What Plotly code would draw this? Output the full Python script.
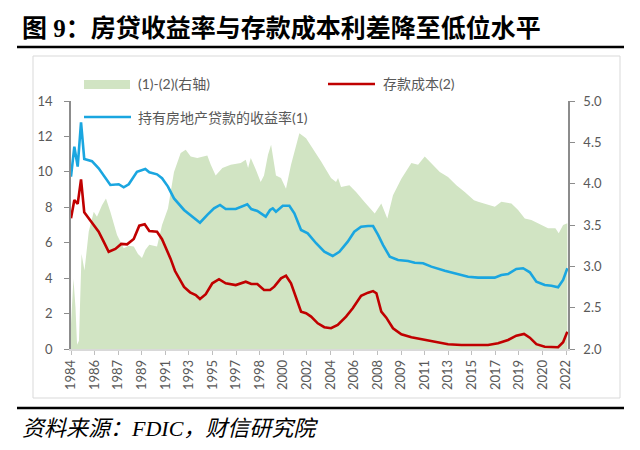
import plotly.graph_objects as go

# ---------------- data ----------------
blue_year = [1984.00, 1984.26, 1984.52, 1984.78, 1985.03, 1985.63, 1986.15, 1986.67, 1987.06, 1987.71,
             1988.10, 1988.49, 1989.13, 1989.78, 1990.09, 1990.69, 1991.08, 1991.54, 1992.01, 1992.79,
             1993.57, 1994.03, 1994.60, 1995.12, 1995.59, 1996.03, 1996.81, 1997.32, 1997.71, 1998.02,
             1998.49, 1999.14, 1999.48, 1999.69, 1999.94, 2000.47, 2000.98, 2001.37, 2001.89, 2002.41,
             2003.06, 2003.70, 2004.35, 2004.87, 2005.52, 2006.03, 2006.56, 2007.10, 2007.49, 2007.88,
             2008.27, 2008.79, 2009.43, 2010.21, 2010.73, 2011.38, 2012.02, 2013.07, 2013.97, 2014.88,
             2015.66, 2016.95, 2017.47, 2017.99, 2018.63, 2019.16, 2019.68, 2020.19, 2020.84, 2021.36,
             2021.88, 2022.27, 2022.60]
blue_yield = [9.73, 11.42, 10.30, 12.80, 10.73, 10.60, 10.20, 9.64, 9.26, 9.30,
              9.13, 9.30, 10.00, 10.16, 9.98, 9.86, 9.64, 9.17, 8.50, 7.85,
              7.41, 7.13, 7.57, 7.94, 8.13, 7.90, 7.90, 8.04, 8.17, 7.90,
              7.79, 7.47, 7.85, 7.94, 7.75, 8.09, 8.09, 7.66, 6.72, 6.53,
              5.97, 5.49, 5.25, 5.49, 6.06, 6.62, 6.90, 6.94, 6.94, 6.44,
              5.87, 5.21, 5.02, 4.97, 4.87, 4.84, 4.65, 4.42, 4.23, 4.08,
              4.03, 4.03, 4.18, 4.23, 4.52, 4.56, 4.33, 3.80, 3.61, 3.57,
              3.48, 3.90, 4.56]

red_year = [1984.00, 1984.26, 1984.52, 1984.78, 1985.03, 1985.63, 1986.15, 1986.54, 1986.93, 1987.45,
            1987.91, 1988.36, 1988.88, 1989.31, 1989.73, 1990.09, 1990.69, 1991.08, 1991.39, 1991.74,
            1992.09, 1992.47, 1992.79, 1993.26, 1993.70, 1994.03, 1994.48, 1994.99, 1995.51, 1996.03,
            1996.81, 1997.59, 1998.02, 1998.49, 1999.01, 1999.48, 1999.81, 2000.33, 2000.72, 2001.11,
            2001.50, 2001.89, 2002.28, 2002.67, 2003.19, 2003.70, 2004.22, 2004.74, 2005.39, 2005.91,
            2006.56, 2006.95, 2007.10, 2007.49, 2007.75, 2008.13, 2008.52, 2009.04, 2009.69, 2010.47,
            2011.25, 2012.29, 2013.32, 2014.36, 2015.34, 2016.43, 2017.21, 2017.99, 2018.63, 2019.23,
            2019.68, 2020.19, 2020.84, 2021.88, 2022.27, 2022.60]
red_cost = [7.38, 8.41, 8.19, 9.58, 7.72, 7.10, 6.62, 6.06, 5.49, 5.65,
            5.93, 5.91, 6.21, 6.96, 7.04, 6.66, 6.62, 6.20, 5.70, 5.10,
            4.40, 3.90, 3.50, 3.20, 3.05, 2.82, 3.09, 3.71, 3.94, 3.71,
            3.61, 3.80, 3.67, 3.67, 3.33, 3.33, 3.52, 3.99, 4.14, 3.71,
            2.95, 2.11, 2.02, 1.83, 1.45, 1.23, 1.17, 1.36, 1.83, 2.30,
            3.00, 3.15, 3.18, 3.27, 3.15, 2.11, 1.77, 1.17, 0.83, 0.66,
            0.55, 0.38, 0.27, 0.23, 0.23, 0.23, 0.32, 0.51, 0.75, 0.85,
            0.64, 0.27, 0.13, 0.10, 0.38, 0.98]

green_year = [1984.00, 1984.19, 1984.35, 1984.47, 1984.62, 1984.82, 1985.05, 1985.38, 1985.77, 1986.02,
              1986.41, 1986.72, 1987.06, 1987.58, 1988.10, 1988.49, 1988.88, 1989.21, 1989.52, 1989.79,
              1990.09, 1990.38, 1990.69, 1991.08, 1991.54, 1992.01, 1992.53, 1992.92, 1993.31, 1993.82,
              1994.34, 1994.60, 1994.87, 1995.25, 1995.77, 1996.42, 1997.20, 1997.59, 1997.77, 1997.98,
              1998.37, 1998.75, 1999.01, 1999.32, 1999.56, 1999.94, 2000.33, 2000.72, 2001.11, 2001.76,
              2002.28, 2002.80, 2003.44, 2004.22, 2004.61, 2004.77, 2005.00, 2005.65, 2006.17, 2006.81,
              2007.41, 2007.62, 2008.13, 2008.60, 2009.04, 2009.69, 2010.47, 2010.99, 2011.51, 2012.02,
              2012.68, 2013.32, 2013.97, 2014.62, 2015.34, 2015.66, 2016.43, 2016.96, 2017.47, 2018.25,
              2018.77, 2019.29, 2019.80, 2020.32, 2021.10, 2021.67, 2021.93, 2022.27, 2022.60]
green_spread = [2.30, 2.85, 2.50, 2.05, 2.10, 3.15, 2.95, 3.42, 3.66, 3.60,
                3.74, 3.82, 3.66, 3.38, 3.22, 3.25, 3.24, 3.15, 3.10, 3.20,
                3.26, 3.25, 3.24, 3.50, 3.70, 4.14, 4.37, 4.41, 4.33, 4.31,
                4.33, 4.34, 4.23, 4.10, 4.19, 4.23, 4.25, 4.29, 4.19, 4.31,
                4.17, 4.02, 4.10, 4.35, 4.47, 4.10, 4.07, 3.94, 4.23, 4.61,
                4.55, 4.43, 4.27, 4.07, 4.02, 4.07, 3.96, 3.98, 3.90, 3.78,
                3.68, 3.64, 3.76, 3.58, 3.86, 4.06, 4.25, 4.23, 4.33, 4.25,
                4.14, 4.08, 3.98, 3.90, 3.80, 3.78, 3.74, 3.72, 3.78, 3.76,
                3.68, 3.58, 3.56, 3.52, 3.46, 3.46, 3.40, 3.50, 3.52]

tick_labels = ["1984", "1986", "1987", "1989", "1991", "1993", "1995", "1997", "1998", "2000", "2002",
               "2004", "2006", "2008", "2009", "2011", "2013", "2015", "2017", "2019", "2020", "2022"]

title_text = "图 9：房贷收益率与存款成本利差降至低位水平"
source_text = "资料来源：FDIC，财信研究院"
name_green = "(1)-(2)(右轴)"
name_red = "存款成本(2)"
name_blue = "持有房地产贷款的收益率(1)"

# ---------------- style ----------------
GREEN = "#d1e4c3"
BLUE = "#1aa6e0"
RED = "#c00000"
GREY_TXT = "#595959"
W, H = 640, 450
L, R, T, B = 71, 568, 101, 349
X0, X1 = 1984.0, 2022.65


def fx(p):
    return (p - L) / (R - L)


def fy(p):
    return (B - p) / (B - T)


tick_vals = [X0 + k * 38.5 / (len(tick_labels) - 1) for k in range(len(tick_labels))]

fig = go.Figure()
fig.add_trace(go.Scatter(x=green_year, y=green_spread, name=name_green, mode="lines",
                         line=dict(width=0, color=GREEN), fill="tozeroy", fillcolor=GREEN,
                         yaxis="y", showlegend=False))
fig.add_trace(go.Scatter(x=blue_year, y=blue_yield, name=name_blue, mode="lines",
                         line=dict(width=2.6, color=BLUE), yaxis="y2", showlegend=False))
fig.add_trace(go.Scatter(x=red_year, y=red_cost, name=name_red, mode="lines",
                         line=dict(width=2.6, color=RED), yaxis="y2", showlegend=False))

tickfont = dict(family="Lato, Noto Sans, sans-serif", size=13, color=GREY_TXT)

fig.update_layout(
    width=W, height=H, autosize=False,
    margin=dict(l=L, r=W - R, t=T, b=H - B, pad=0),
    paper_bgcolor="white", plot_bgcolor="white",
    showlegend=False,
    xaxis=dict(range=[X0, X1], tickvals=tick_vals, ticktext=tick_labels, tickangle=-90,
               ticks="outside", ticklen=4, tickcolor="#bfbfbf", showline=True, linecolor="#d9d9d9",
               linewidth=1.5, showgrid=False, zeroline=False, tickfont=tickfont),
    yaxis=dict(range=[2, 5], side="right", dtick=0.5, tickformat=".1f", ticks="outside", ticklen=5,
               tickcolor="#8c8c8c", showline=True, linecolor="#8c8c8c", linewidth=1.5,
               showgrid=False, zeroline=False, tickfont=tickfont, ticklabelstandoff=6),
    yaxis2=dict(range=[0, 14], side="left", overlaying="y", dtick=2, ticks="outside", ticklen=5,
                tickcolor="#8c8c8c", showline=True, linecolor="#8c8c8c", linewidth=1.5,
                showgrid=False, zeroline=False, tickfont=tickfont, ticklabelstandoff=9),
)

shapes = [
    dict(type="line", xref="paper", yref="paper", x0=fx(17), x1=fx(624), y0=fy(47), y1=fy(47),
         line=dict(color="black", width=2.5)),
    dict(type="line", xref="paper", yref="paper", x0=fx(17), x1=fx(624), y0=fy(408), y1=fy(408),
         line=dict(color="black", width=2.5)),
    dict(type="rect", xref="paper", yref="paper", x0=fx(33), x1=fx(620), y0=fy(398), y1=fy(56),
         line=dict(color="#d9d9d9", width=1), layer="below"),
    dict(type="rect", xref="paper", yref="paper", x0=fx(84), x1=fx(130), y0=fy(89), y1=fy(80),
         fillcolor=GREEN, line=dict(width=0)),
    dict(type="line", xref="paper", yref="paper", x0=fx(328), x1=fx(375), y0=fy(84), y1=fy(84),
         line=dict(color=RED, width=2.6)),
    dict(type="line", xref="paper", yref="paper", x0=fx(84), x1=fx(131), y0=fy(117), y1=fy(117),
         line=dict(color=BLUE, width=2.6)),
]

legfont = dict(family="Lato, Noto Sans CJK SC, sans-serif", size=14, color=GREY_TXT)
annotations = [
    dict(text="<b>" + title_text + "</b>", xref="paper", yref="paper", x=fx(20), y=fy(28),
         xanchor="left", yanchor="middle", showarrow=False,
         font=dict(family="Liberation Serif, Noto Sans CJK SC, serif", size=25, color="black")),
    dict(text="<i>" + source_text + "</i>", xref="paper", yref="paper", x=fx(20), y=fy(428),
         xanchor="left", yanchor="middle", showarrow=False,
         font=dict(family="Liberation Serif, Noto Sans CJK SC, serif", size=22, color="black")),
    dict(text=name_green, xref="paper", yref="paper", x=fx(136), y=fy(84), xanchor="left",
         yanchor="middle", showarrow=False, font=legfont),
    dict(text=name_red, xref="paper", yref="paper", x=fx(381), y=fy(84), xanchor="left",
         yanchor="middle", showarrow=False, font=legfont),
    dict(text=name_blue, xref="paper", yref="paper", x=fx(136), y=fy(117), xanchor="left",
         yanchor="middle", showarrow=False, font=legfont),
]
fig.update_layout(shapes=shapes, annotations=annotations)

fig.write_html("out.html", config={"displayModeBar": False},
               post_script="document.body.style.margin='0px';")
